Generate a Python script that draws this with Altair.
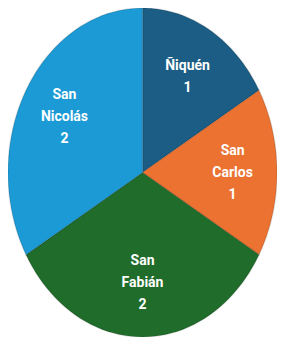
import altair as alt
import pandas as pd

# Data
comunas = ["Ñiquén", "San Carlos", "San Fabián", "San Nicolás"]
valores = [1, 1, 2, 2]
colores = ["#1b5d84", "#eb7231", "#1f6c2b", "#1b9ad6"]

df = pd.DataFrame({"comuna": comunas, "valor": valores, "orden": list(range(len(comunas)))})

N = 48  # points per arc edge
W, H = 269, 329
LINE_H = 22

base = (
    alt.Chart(df)
    .transform_window(cum="sum(valor)", sort=[alt.SortField("orden")], frame=[None, 0])
    .transform_joinaggregate(total="sum(valor)")
    .transform_calculate(
        a0="(datum.cum - datum.valor) / datum.total * 2 * PI",
        a1="datum.cum / datum.total * 2 * PI",
    )
)

xs = alt.Scale(domain=[-1, 1], nice=False, zero=False)
ys = alt.Scale(domain=[-1, 1], nice=False, zero=False)
col = alt.Scale(domain=comunas, range=colores)

slices = (
    base.transform_calculate(pts=f"sequence(-1, {N + 2})")
    .transform_flatten(["pts"], as_=["pt"])
    .transform_calculate(
        t=f"datum.a0 + (datum.a1 - datum.a0) * datum.pt / {N}",
    )
    .transform_calculate(
        x=f"(datum.pt < 0 || datum.pt > {N}) ? 0 : sin(datum.t)",
        y=f"(datum.pt < 0 || datum.pt > {N}) ? 0 : cos(datum.t)",
    )
    .mark_line(filled=True, stroke="#000000", strokeOpacity=0.12, strokeWidth=1.5)
    .encode(
        x=alt.X("x:Q", scale=xs, axis=None),
        y=alt.Y("y:Q", scale=ys, axis=None),
        color=alt.Color("comuna:N", scale=col, legend=None),
        order=alt.Order("pt:Q"),
    )
)

labels = (
    base.transform_calculate(
        m="(datum.a0 + datum.a1) / 2",
        etiqueta="replace(datum.comuna, ' ', '\\n') + '\\n' + datum.valor",
        nl="length(split(datum.comuna, ' ')) + 1",
    )
    .transform_calculate(
        lx="0.67 * sin(datum.m)",
        ly=f"0.67 * cos(datum.m) + (datum.nl - 1) / 2 * {LINE_H} / ({H} / 2)",
    )
    .mark_text(
        font="Roboto",
        fontWeight="bold",
        fontSize=14,
        lineHeight=LINE_H,
        lineBreak="\n",
        color="white",
        align="center",
        baseline="middle",
    )
    .encode(
        x=alt.X("lx:Q", scale=xs, axis=None),
        y=alt.Y("ly:Q", scale=ys, axis=None),
        text="etiqueta:N",
    )
)

chart = (
    alt.layer(slices, labels)
    .properties(width=W, height=H, padding=0, autosize=alt.AutoSizeParams(type="none"))
    .configure_view(strokeWidth=0, strokeOpacity=0)
)

chart.save("out.html", embed_options={"renderer": "svg", "actions": False})
